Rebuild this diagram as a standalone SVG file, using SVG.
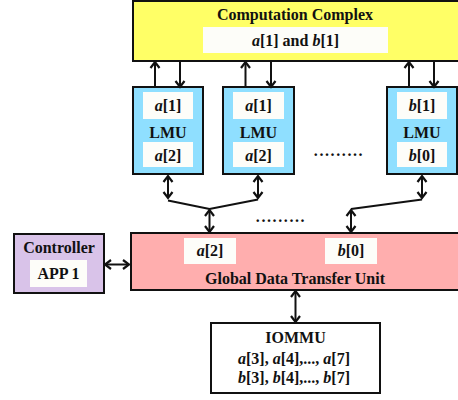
<svg xmlns="http://www.w3.org/2000/svg" width="458" height="400" viewBox="0 0 458 400" font-family="'Liberation Serif', serif">
<style>
  text { font-family: 'Liberation Serif', serif; font-weight: bold; font-size: 16px; fill: #111; text-anchor: middle; }
  .i { font-style: italic; }
  .box { stroke: #111; stroke-width: 2; }
  .cc { fill: #ffff66; }
  .lmu { fill: #8fdfff; }
  .gdtu { fill: #ffaeae; }
  .ctrl { fill: #d9c3e9; }
  .io { fill: #ffffff; }
  .inner { fill: #fdfdf9; stroke: none; }
  .conn { stroke: #111; stroke-width: 2; fill: none; }
  .dots { letter-spacing: 1.6px; }
</style>
<defs>
  <marker id="ah" markerUnits="userSpaceOnUse" markerWidth="12" markerHeight="12" refX="7" refY="5" orient="auto-start-reverse" viewBox="0 0 12 10">
    <path d="M1,0.5 L7,5 L1,9.5" fill="none" stroke="#111" stroke-width="2.2"/>
  </marker>
</defs>

<g id="computation-complex">
  <rect class="box cc" x="133" y="1" width="330" height="60"/>
  <text x="295" y="20">Computation Complex</text>
  <rect class="inner" x="203" y="27" width="185" height="26"/>
  <text x="295.5" y="46"><tspan class="i">a</tspan>[1] and <tspan class="i">b</tspan>[1]</text>
</g>

<g id="lmu1">
  <rect class="box lmu" x="133" y="87" width="70" height="87"/>
  <rect class="inner" x="143" y="92" width="50" height="27"/>
  <text x="168" y="111"><tspan class="i">a</tspan>[1]</text>
  <text x="168" y="137.5">LMU</text>
  <rect class="inner" x="143" y="142" width="50" height="25"/>
  <text x="168" y="161"><tspan class="i">a</tspan>[2]</text>
</g>

<g id="lmu2">
  <rect class="box lmu" x="223" y="87" width="71" height="87"/>
  <rect class="inner" x="233" y="92" width="51" height="27"/>
  <text x="258.5" y="111"><tspan class="i">a</tspan>[1]</text>
  <text x="258.5" y="137.5">LMU</text>
  <rect class="inner" x="233" y="142" width="51" height="25"/>
  <text x="258.5" y="161"><tspan class="i">a</tspan>[2]</text>
</g>

<g id="lmu3">
  <rect class="box lmu" x="387" y="87" width="70" height="87"/>
  <rect class="inner" x="397" y="92" width="50" height="27"/>
  <text x="422" y="111"><tspan class="i">b</tspan>[1]</text>
  <text x="422" y="137.5">LMU</text>
  <rect class="inner" x="397" y="142" width="50" height="25"/>
  <text x="422" y="161"><tspan class="i">b</tspan>[0]</text>
</g>

<g id="gdtu">
  <rect class="box gdtu" x="131" y="233" width="332" height="57"/>
  <rect class="inner" x="184" y="238" width="52" height="26"/>
  <text x="210" y="256"><tspan class="i">a</tspan>[2]</text>
  <rect class="inner" x="325" y="238" width="52" height="26"/>
  <text x="351" y="256"><tspan class="i">b</tspan>[0]</text>
  <text x="295" y="284">Global Data Transfer Unit</text>
</g>

<g id="controller">
  <rect class="box ctrl" x="14" y="234" width="90" height="59"/>
  <text x="59" y="253">Controller</text>
  <rect class="inner" x="30" y="260" width="57" height="27"/>
  <text x="58.5" y="279">APP 1</text>
</g>

<g id="iommu">
  <rect class="box io" x="211" y="323" width="169" height="70"/>
  <text x="295.5" y="342.5">IOMMU</text>
  <text x="294" y="364"><tspan class="i">a</tspan>[3], <tspan class="i">a</tspan>[4],..., <tspan class="i">a</tspan>[7]</text>
  <text x="294" y="383"><tspan class="i">b</tspan>[3], <tspan class="i">b</tspan>[4],..., <tspan class="i">b</tspan>[7]</text>
</g>

<g id="ellipsis">
  <text class="dots" x="339" y="156">.........</text>
  <text class="dots" x="281" y="222">.........</text>
</g>

<g id="connectors">
  <line class="conn" x1="155" y1="87" x2="155" y2="62" marker-end="url(#ah)"/>
  <line class="conn" x1="180" y1="62" x2="180" y2="87" marker-end="url(#ah)"/>
  <line class="conn" x1="245.5" y1="87" x2="245.5" y2="62" marker-end="url(#ah)"/>
  <line class="conn" x1="271" y1="62" x2="271" y2="87" marker-end="url(#ah)"/>
  <line class="conn" x1="409" y1="87" x2="409" y2="62" marker-end="url(#ah)"/>
  <line class="conn" x1="434" y1="62" x2="434" y2="87" marker-end="url(#ah)"/>

  <line class="conn" x1="168" y1="176" x2="168" y2="198" marker-start="url(#ah)" marker-end="url(#ah)"/>
  <line class="conn" x1="258" y1="176" x2="258" y2="198" marker-start="url(#ah)" marker-end="url(#ah)"/>
  <polyline class="conn" points="168,200.5 209.5,209 258,199.5"/>
  <line class="conn" x1="209.5" y1="210" x2="209.5" y2="232" marker-start="url(#ah)" marker-end="url(#ah)"/>

  <line class="conn" x1="422" y1="176" x2="422" y2="198" marker-start="url(#ah)" marker-end="url(#ah)"/>
  <polyline class="conn" points="422,199.5 351,209"/>
  <line class="conn" x1="351" y1="210" x2="351" y2="232" marker-start="url(#ah)" marker-end="url(#ah)"/>

  <line class="conn" x1="105" y1="264.5" x2="129" y2="264.5" marker-start="url(#ah)" marker-end="url(#ah)"/>
  <line class="conn" x1="295.5" y1="291" x2="295.5" y2="322" marker-start="url(#ah)" marker-end="url(#ah)"/>
</g>
</svg>
